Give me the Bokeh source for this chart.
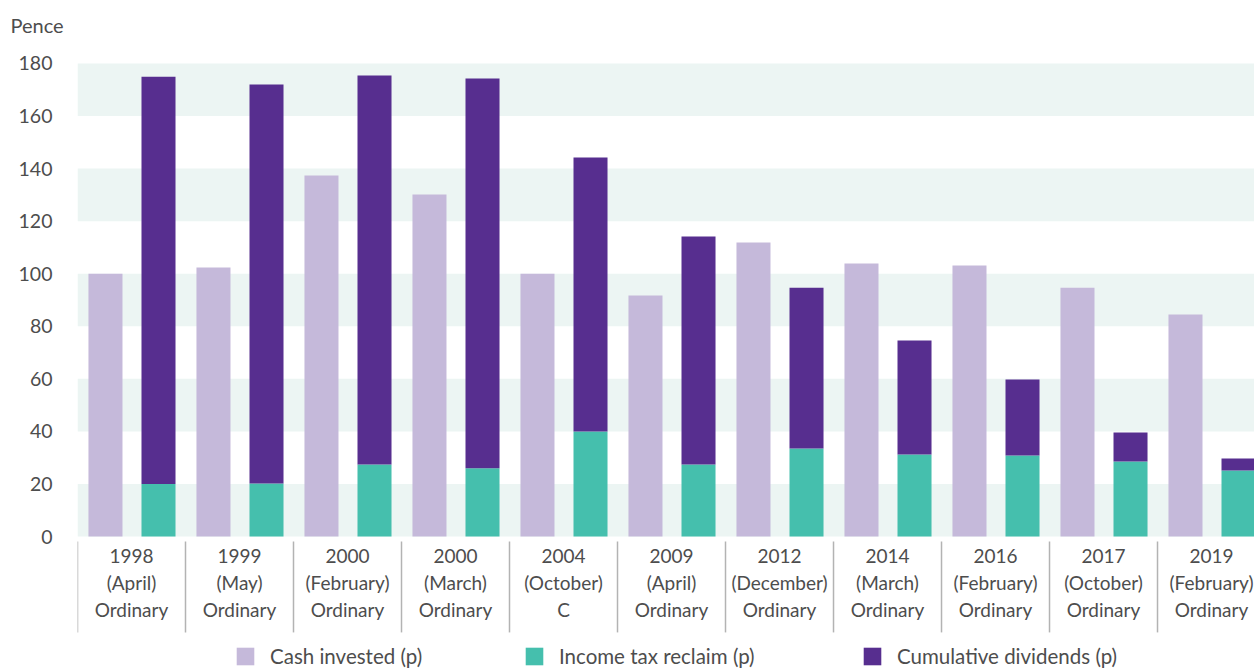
from bokeh.plotting import figure
from bokeh.models import Range1d, FixedTicker, Legend, LegendItem
from bokeh.embed import file_html
from bokeh.resources import INLINE
from bokeh.core.properties import value

# ---- data ----
years = ["1998", "1999", "2000", "2000", "2004", "2009", "2012", "2014", "2016", "2017", "2019"]
months = ["(April)", "(May)", "(February)", "(March)", "(October)", "(April)",
          "(December)", "(March)", "(February)", "(October)", "(February)"]
share_class = ["Ordinary", "Ordinary", "Ordinary", "Ordinary", "C", "Ordinary",
               "Ordinary", "Ordinary", "Ordinary", "Ordinary", "Ordinary"]
cash_invested = [100, 102.4, 137.4, 130.1, 100, 91.7, 111.9, 103.9, 103.1, 94.7, 84.5]
income_tax_reclaim = [20, 20.2, 27.4, 26, 40, 27.4, 33.5, 31.2, 30.8, 28.5, 25.1]
cumulative_dividends = [155, 151.8, 148, 148.3, 104.2, 86.8, 61.2, 43.4, 28.9, 11.1, 4.6]
y_ticks = [0, 20, 40, 60, 80, 100, 120, 140, 160, 180]

# ---- styles ----
FONT = "Lato"
TXT = "#4d4d4d"
C_CASH = "#C5B9DA"
C_TAX = "#45BFAD"
C_DIV = "#572E8F"
C_BAND = "#ECF5F3"

n = len(years)
idx = list(range(n))

p = figure(width=1254, height=668, output_backend="svg", toolbar_location=None,
           x_range=Range1d(0, 10.898), y_range=Range1d(-50.23, 188.75),
           x_axis_type=None, min_border_left=77, min_border_right=0,
           min_border_top=40, min_border_bottom=0)
p.outline_line_color = None
p.xgrid.visible = False
p.ygrid.visible = False
p.background_fill_color = "white"
p.border_fill_color = "white"

# title "Pence"
p.title.text = "Pence"
p.title.align = "left"
p.title.offset = -67
p.title.text_font = FONT
p.title.text_font_size = "20px"
p.title.text_font_style = "normal"
p.title.text_color = TXT
p.title.standoff = 7

# y axis
ya = p.yaxis[0]
ya.ticker = FixedTicker(ticks=y_ticks)
ya.axis_line_color = None
ya.major_tick_line_color = None
ya.minor_tick_line_color = None
ya.major_tick_out = 0
ya.major_tick_in = 0
ya.major_label_standoff = 25
ya.major_label_text_font = FONT
ya.major_label_text_font_size = "19.5px"
ya.major_label_text_color = TXT

# background bands
p.quad(left=0, right=n, bottom=y_ticks[0:-1:2], top=y_ticks[1::2],
       fill_color=C_BAND, line_color=None)

# bars
bw = 0.315
x_cash = [i + 0.259 for i in idx]
x_stack = [i + 0.75 for i in idx]
div_top = [a + b for a, b in zip(income_tax_reclaim, cumulative_dividends)]
r_cash = p.vbar(x=x_cash, width=bw, bottom=0, top=cash_invested, fill_color=C_CASH, line_color=None)
r_tax = p.vbar(x=x_stack, width=bw, bottom=0, top=income_tax_reclaim, fill_color=C_TAX, line_color=None)
r_div = p.vbar(x=x_stack, width=bw, bottom=income_tax_reclaim, top=div_top, fill_color=C_DIV, line_color=None)

# category separators
p.segment(x0=idx, x1=idx, y0=-1.9, y1=-36.5, line_color="#b3b3b3", line_width=1.5)

# category labels
cx = [i + 0.5 for i in idx]
for lines, yy in ((years, -7.23), (months, -17.5), (share_class, -27.8)):
    p.text(x=cx, y=yy, text=lines, text_align="center", text_baseline="middle",
           text_font=value(FONT), text_font_size="19px", text_color=TXT)

# legends
for r, lab, xpos in ((r_cash, "Cash invested (p)", 157),
                     (r_tax, "Income tax reclaim (p)", 446),
                     (r_div, "Cumulative dividends (p)", 784)):
    lg = Legend(items=[LegendItem(label=lab, renderers=[r])], location=(xpos, 0),
                orientation="horizontal", glyph_width=22, glyph_height=22,
                label_standoff=14, label_text_font=FONT, label_text_font_size="20.5px",
                label_text_color=TXT, padding=0, margin=0, border_line_color=None,
                background_fill_alpha=0, label_height=22)
    p.add_layout(lg, "center")

open("out.html", "w").write(file_html(p, INLINE))
